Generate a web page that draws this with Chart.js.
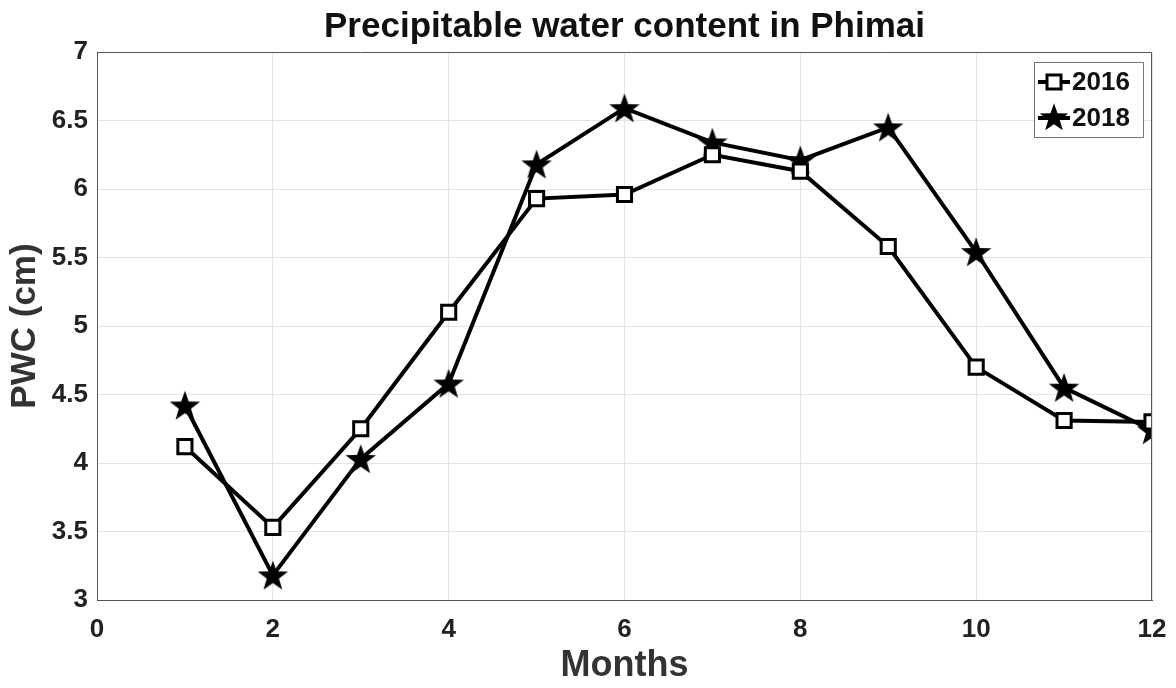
<!DOCTYPE html>
<html>
<head>
<meta charset="utf-8">
<script src="https://cdn.jsdelivr.net/npm/chart.js@4.4.1/dist/chart.umd.min.js"></script>
<style>
  html, body { margin: 0; padding: 0; background: #fff; }
  #wrap { width: 1176px; height: 688px; }
</style>
</head>
<body>
<div id="wrap"><canvas id="myChart"></canvas></div>
<script>
// datos
const months = [1, 2, 3, 4, 5, 6, 7, 8, 9, 10, 11, 12];
const pwc2016 = [4.12, 3.53, 4.25, 5.10, 5.93, 5.96, 6.25, 6.13, 5.58, 4.70, 4.31, 4.30];
const pwc2018 = [4.42, 3.18, 4.03, 4.58, 6.18, 6.59, 6.34, 6.21, 6.45, 5.54, 4.55, 4.24];
const xTicks = [0, 2, 4, 6, 8, 10, 12];
const yTicks = [3, 3.5, 4, 4.5, 5, 5.5, 6, 6.5, 7];

const FONT = '"Liberation Sans", Arial, sans-serif';

// estrella rellena para la serie 2018
function makeStar(size) {
    const c = document.createElement('canvas');
    c.width = size; c.height = size;
    const g = c.getContext('2d');
    const cx = size / 2, cy = size / 2 + size * 0.04;
    const R = size / 2, r = R * 0.4;
    g.beginPath();
    for (let i = 0; i < 10; i++) {
        const rad = i % 2 === 0 ? R : r;
        const a = -Math.PI / 2 + i * Math.PI / 5;
        const px = cx + rad * Math.cos(a), py = cy + rad * Math.sin(a);
        if (i === 0) g.moveTo(px, py); else g.lineTo(px, py);
    }
    g.closePath();
    g.fillStyle = '#000';
    g.fill();
    return c;
}
const star = makeStar(32);
const starSmall = makeStar(30);

const toXY = (vals) => vals.map((v, i) => ({ x: months[i], y: v }));

// marco superior/derecho y leyenda tipo MATLAB
const boxLegend = {
    id: 'boxLegend',
    afterDraw(chart) {
        const { ctx, chartArea: a } = chart;
        ctx.save();
        ctx.strokeStyle = '#555';
        ctx.lineWidth = 1;
        ctx.beginPath();
        ctx.moveTo(a.left, a.top + 0.5);
        ctx.lineTo(a.right - 0.5, a.top + 0.5);
        ctx.lineTo(a.right - 0.5, a.bottom);
        ctx.stroke();

        // leyenda
        const lx = 1034, ly = 62, lw = 109, lh = 75;
        ctx.fillStyle = '#fff';
        ctx.fillRect(lx, ly, lw, lh);
        ctx.strokeStyle = '#777';
        ctx.strokeRect(lx + 0.5, ly + 0.5, lw, lh);
        const rows = [{ y: ly + 20, label: chart.data.datasets[0].label, mk: 'sq' },
                      { y: ly + 56, label: chart.data.datasets[1].label, mk: 'st' }];
        rows.forEach(r => {
            ctx.strokeStyle = '#000';
            ctx.lineWidth = 4;
            ctx.beginPath();
            ctx.moveTo(lx + 4, r.y);
            ctx.lineTo(lx + 36, r.y);
            ctx.stroke();
            if (r.mk === 'sq') {
                ctx.fillStyle = '#fff';
                ctx.lineWidth = 3;
                ctx.fillRect(lx + 13, r.y - 7, 14, 14);
                ctx.strokeRect(lx + 13, r.y - 7, 14, 14);
            } else {
                ctx.drawImage(starSmall, lx + 20 - 15, r.y - 16);
            }
            ctx.fillStyle = '#111';
            ctx.font = 'bold 26px ' + FONT;
            ctx.textBaseline = 'middle';
            ctx.fillText(r.label, lx + 38, r.y + 1);
        });
        ctx.restore();
    }
};

const ctx = document.getElementById('myChart');

const myChart = new Chart(ctx, {
    type: 'line',
    data: {
        datasets: [{
            label: '2016',
            data: toXY(pwc2016),
            borderColor: '#000',
            borderWidth: 4,
            pointStyle: 'rect',
            pointRadius: 10,
            pointHoverRadius: 10,
            pointBorderWidth: 3,
            pointBackgroundColor: '#fff',
            pointBorderColor: '#000'
        }, {
            label: '2018',
            data: toXY(pwc2018),
            borderColor: '#000',
            borderWidth: 4,
            pointStyle: star,
            pointRadius: 16,
            pointHoverRadius: 16
        }]
    },
    options: {
        responsive: true,
        maintainAspectRatio: false,
        animation: false,
        layout: { padding: { left: 0, right: 24, top: 0, bottom: 0 } },
        plugins: {
            legend: { display: false },
            tooltip: { enabled: false },
            title: {
                display: true,
                fullSize: false,
                text: 'Precipitable water content in Phimai',
                color: '#111',
                font: { family: FONT, size: 35, weight: 'bold', lineHeight: 1.2 },
                padding: { top: 6, bottom: 4 }
            }
        },
        scales: {
            x: {
                type: 'linear',
                min: 0,
                max: 12,
                afterBuildTicks: (s) => { s.ticks = xTicks.map(v => ({ value: v })); },
                afterFit: (s) => { s.height = 88; s.paddingLeft = 0; s.paddingRight = 0; },
                grid: { color: '#e3e3e3', tickLength: 0, drawTicks: false },
                border: { color: '#555', width: 1 },
                ticks: {
                    color: '#222',
                    padding: 14,
                    callback: (v) => v,
                    font: { family: FONT, size: 26, weight: 'bold' }
                },
                title: {
                    display: true,
                    text: 'Months',
                    color: '#333',
                    padding: { top: 2, bottom: 0 },
                    font: { family: FONT, size: 36, weight: 'bold' }
                }
            },
            y: {
                min: 3,
                max: 7,
                afterBuildTicks: (s) => { s.ticks = yTicks.map(v => ({ value: v })); },
                afterFit: (s) => { s.width = 97; },
                grid: { color: '#e3e3e3', tickLength: 0, drawTicks: false },
                border: { color: '#555', width: 1 },
                ticks: {
                    color: '#222',
                    padding: 9,
                    callback: (v) => v,
                    font: { family: FONT, size: 26, weight: 'bold' }
                },
                title: {
                    display: true,
                    text: 'PWC (cm)',
                    color: '#333',
                    padding: { top: 4, bottom: 0 },
                    font: { family: FONT, size: 35, weight: 'bold' }
                }
            }
        }
    },
    plugins: [boxLegend]
});
</script>
</body>
</html>
